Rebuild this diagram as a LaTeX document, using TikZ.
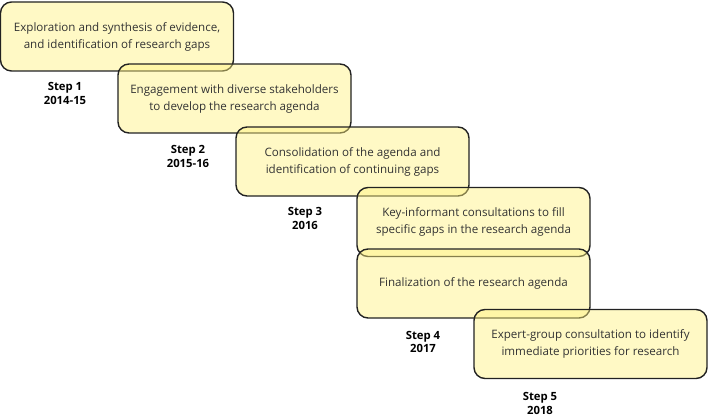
\documentclass[tikz,border=0pt]{standalone}
\usepackage{fontspec}
\setmainfont{Open Sans}
\definecolor{boxfill}{HTML}{FFF27F}
\definecolor{boxline}{HTML}{222222}
\tikzset{
  stepbox/.style={draw=boxline, line width=1.4pt, rounded corners=11pt, fill=boxfill, fill opacity=0.45, text opacity=1,
    minimum width=233pt, minimum height=69pt, align=center, font=\fontsize{11.6}{17}\selectfont, text=black!80},
  steplabel/.style={align=center, font=\bfseries\fontsize{11.3}{13.5}\selectfont}
}
\begin{document}
\begin{tikzpicture}[x=1pt,y=-1pt]
\useasboundingbox (0,0) rectangle (709,417);
\node[stepbox] (b1) at (117,36.5) {Exploration and synthesis of evidence,\\and identification of research gaps};
\node[stepbox] (b2) at (234.5,98.5) {Engagement with diverse stakeholders\\to develop the research agenda};
\node[stepbox] (b3) at (352.5,161.5) {Consolidation of the agenda and\\identification of continuing gaps};
\node[stepbox] (b4) at (473.5,222) {Key-informant consultations to fill\\specific gaps in the research agenda};
\node[stepbox] (b5) at (473.5,283.5) {Finalization of the research agenda};
\node[stepbox] (b6) at (590.5,344) {Expert-group consultation to identify\\immediate priorities for research};
\node[steplabel] (s1) at (65,93.5) {Step 1\\2014-15};
\node[steplabel] (s2) at (188,156.5) {Step 2\\2015-16};
\node[steplabel] (s3) at (305,218.5) {Step 3\\2016};
\node[steplabel] (s4) at (423,342) {Step 4\\2017};
\node[steplabel] (s5) at (540,403.5) {Step 5\\2018};
\end{tikzpicture}
\end{document}
